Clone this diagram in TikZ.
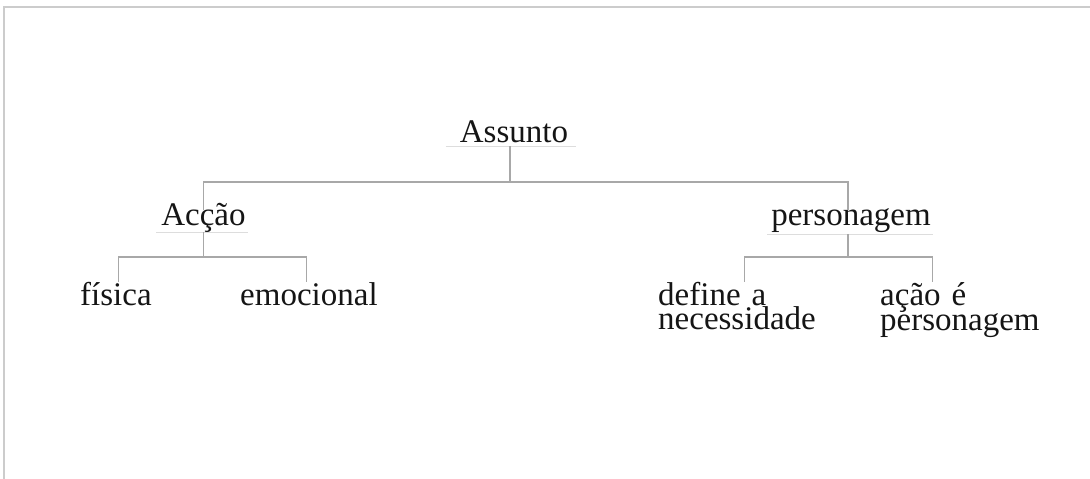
\documentclass[tikz,border=0pt]{standalone}
\usepackage{fontspec}
\setmainfont{Liberation Serif}
\definecolor{txt}{HTML}{151515}
\definecolor{linec}{HTML}{A8A8A8}
\definecolor{ulc}{HTML}{DDDDDD}
\definecolor{framec}{HTML}{CCCCCC}
\lineskiplimit=-100pt
\begin{document}
\begin{tikzpicture}[x=1pt,y=-1pt,
  lbl/.style={font=\fontsize{33}{22}\selectfont, text=txt, inner xsep=2pt, inner ysep=0pt, text height=15pt, anchor=base},
  leaf/.style={font=\fontsize{33}{22}\selectfont, text=txt, align=left, inner xsep=2pt, inner ysep=0pt, anchor=north west},
  conn/.style={draw=linec, line width=1.2pt},
  uline/.style={draw=ulc, line width=1.2pt},
  frame/.style={draw=framec, line width=2pt}]
\useasboundingbox (0,0) rectangle (1090,479);
% frame
\draw[frame] (4,479) -- (4,6.5) -- (1090,6.5);
% labels
\node[lbl, text depth=4pt] (assunto) at (514,142) {Assunto};
\node[lbl, text depth=7pt] (accao) at (203.5,225) {Acção};
\node[lbl, text depth=9pt] (pers) at (851,225) {personagem};
\node[leaf, text width=76pt] (fis) at (78,282) {física};
\node[leaf, text width=132pt] (emo) at (238,282) {emocional};
\node[leaf, text width=172pt] (def) at (656,282) {define a\\necessidade};
\node[leaf, text width=104pt] (acao) at (878,282) {ação é\\personagem};
% underlines
\draw[uline] ([xshift=-12pt]assunto.south west) -- ([xshift=6pt]assunto.south east);
\draw[uline] ([xshift=-3pt]accao.south west) -- (accao.south east);
\draw[uline] ([xshift=-2pt]pers.south west) -- (pers.south east);
% connectors
\coordinate (b1) at (510,182);
\coordinate (b2) at (203.5,257);
\coordinate (b3) at (848,257);
\draw[conn] (b1 |- assunto.south) -- (b1);
\draw[conn] (accao.north) |- (b1) -| (b3 |- pers.north);
\draw[conn] (accao.south) -- (b2);
\draw[conn] (fis.north) |- (b2) -| (emo.north);
\draw[conn] (b3 |- pers.south) -- (b3);
\draw[conn] (def.north) |- (b3) -| (acao.north);
\end{tikzpicture}
\end{document}
